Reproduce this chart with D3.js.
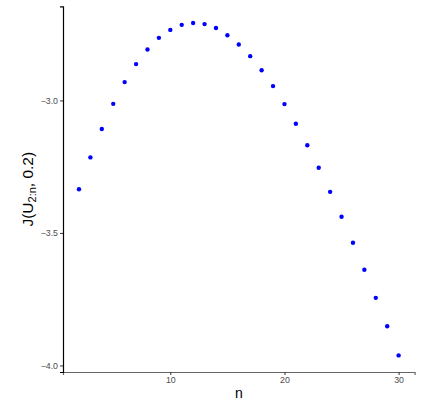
<!DOCTYPE html>
<html>
<head>
<meta charset="utf-8">
<script src="https://cdn.jsdelivr.net/npm/d3@7"></script>
<style>
  body { margin: 0; background: #fff; }
  text { font-family: "Liberation Sans", Arial, sans-serif; }
</style>
</head>
<body>
<div id="chart"></div>
<script>
var svgWidth = 426;
var svgHeight = 404;

// n values and J(U_{2:n}, 0.2)
var nValues = [2, 3, 4, 5, 6, 7, 8, 9, 10, 11, 12, 13, 14, 15, 16,
               17, 18, 19, 20, 21, 22, 23, 24, 25, 26, 27, 28, 29, 30];
var jValues = [-3.335, -3.215, -3.108, -3.013, -2.931, -2.863, -2.808, -2.764, -2.734, -2.715,
               -2.708, -2.712, -2.727, -2.754, -2.789, -2.833, -2.886, -2.946, -3.014, -3.088,
               -3.169, -3.254, -3.345, -3.439, -3.537, -3.639, -3.745, -3.852, -3.962];
var xTicks = [10, 20, 30];
var yTicks = [-3.0, -3.5, -4.0];

var margin = { top: 6.4, right: 11.4, bottom: 32, left: 63 };

var svg = d3.select("#chart")
            .append("svg")
            .attr("width", svgWidth)
            .attr("height", svgHeight);

var data = nValues.map(function(n, i) { return { n: n, j: jValues[i] }; });

// ggplot style 5% expansion
var xMin = d3.min(nValues), xMax = d3.max(nValues);
var yMin = d3.min(jValues), yMax = d3.max(jValues);
var xPad = (xMax - xMin) * 0.05, yPad = (yMax - yMin) * 0.05;

var xScale = d3.scaleLinear()
               .domain([xMin - xPad, xMax + xPad])
               .range([margin.left, svgWidth - margin.right]);

var yScale = d3.scaleLinear()
               .domain([yMin - yPad, yMax + yPad])
               .range([svgHeight - margin.bottom, margin.top]);

var xAxis = d3.axisBottom(xScale).tickValues(xTicks).tickSize(3).tickPadding(2)
              .tickFormat(d3.format("d"));
var yAxis = d3.axisLeft(yScale).tickValues(yTicks).tickSize(3).tickPadding(2)
              .tickFormat(function(d) { return d3.format(".1f")(d).replace("-", "\u2212"); });

var gx = svg.append("g")
            .attr("transform", `translate(0, ${svgHeight - margin.bottom})`)
            .call(xAxis);
gx.select(".domain").attr("stroke", "#666").attr("stroke-width", 1.2);

var gy = svg.append("g")
            .attr("transform", `translate(${margin.left}, 0)`)
            .call(yAxis);
gy.select(".domain").attr("stroke", "#000").attr("stroke-width", 1.2);

svg.selectAll(".tick line").attr("stroke", "#333");
svg.selectAll(".tick text").attr("fill", "#4d4d4d").style("font-size", "8.8px");

svg.selectAll("circle.pt")
   .data(data)
   .enter()
   .append("circle")
   .attr("class", "pt")
   .attr("cx", d => xScale(d.n))
   .attr("cy", d => yScale(d.j))
   .attr("r", 2.2)
   .attr("fill", "#0000ff");

// axis titles
svg.append("text")
   .attr("x", (margin.left + svgWidth - margin.right) / 2)
   .attr("y", 398)
   .attr("text-anchor", "middle")
   .style("font-size", "14px")
   .attr("fill", "#000")
   .text("n");

var ytitle = svg.append("text")
   .attr("transform", `translate(33, ${(margin.top + svgHeight - margin.bottom) / 2}) rotate(-90)`)
   .attr("text-anchor", "middle")
   .style("font-size", "15.5px")
   .attr("fill", "#000");
ytitle.append("tspan").text("J(U");
ytitle.append("tspan").attr("dy", 3).style("font-size", "11px").text("2:n");
ytitle.append("tspan").attr("dy", -3).text(", 0.2)");
</script>
</body>
</html>
